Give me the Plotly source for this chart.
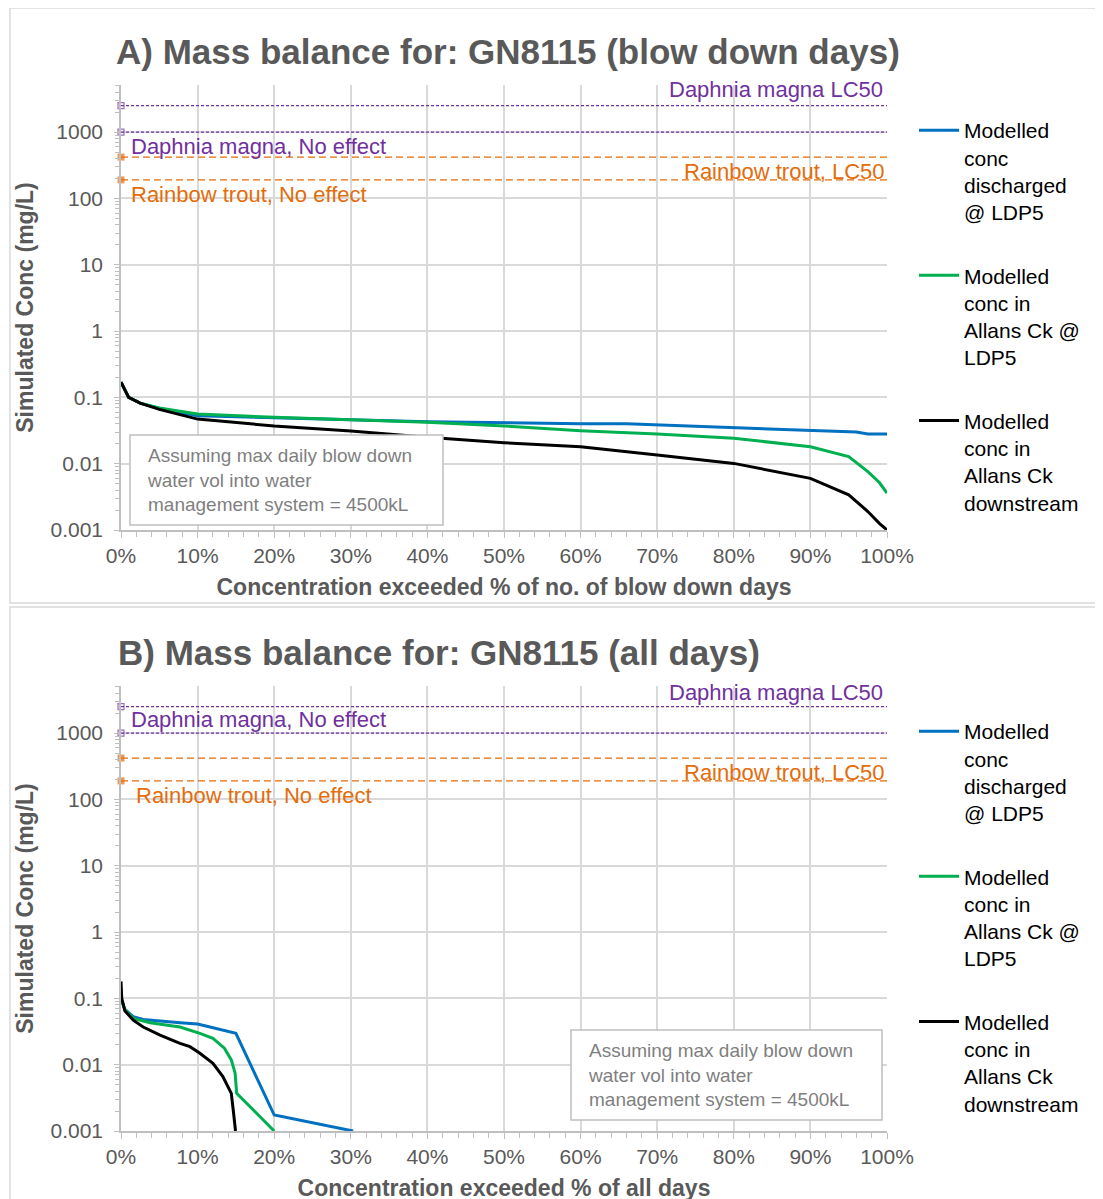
import math
import plotly.graph_objects as go

W, H = 1103, 1199

# ---------------- data ----------------
# Panel A: blow down days (x = % of days exceeded, y = mg/L)
a_blue_x = [0, 1, 2.5, 5, 10, 20, 30, 40, 50, 60, 66, 80, 90, 96, 97.5, 100]
a_blue_y = [0.17, 0.1, 0.082, 0.068, 0.053, 0.049, 0.046, 0.043, 0.041, 0.040, 0.040, 0.035, 0.032, 0.030, 0.028, 0.028]
a_green_x = [0, 1, 2.5, 5, 10, 20, 30, 40, 50, 60, 70, 80, 90, 95, 97.5, 99, 100]
a_green_y = [0.17, 0.1, 0.082, 0.069, 0.056, 0.050, 0.046, 0.042, 0.037, 0.0315, 0.028, 0.0242, 0.018, 0.0128, 0.0076, 0.0052, 0.0036]
a_black_x = [0, 1, 2.5, 5, 10, 20, 30, 40, 50, 60, 70, 80, 90, 95, 97.5, 99, 100]
a_black_y = [0.17, 0.1, 0.082, 0.066, 0.047, 0.037, 0.031, 0.025, 0.0207, 0.018, 0.0135, 0.0101, 0.006, 0.0034, 0.0019, 0.00126, 0.001]

# Panel B: all days
b_blue_x = [0, 0.5, 1.6, 2.9, 7.7, 10, 15, 20, 30.3]
b_blue_y = [0.1, 0.068, 0.053, 0.048, 0.043, 0.041, 0.0297, 0.00174, 0.001]
b_green_x = [0, 0.5, 1.6, 3.8, 7.7, 10.3, 12, 13.5, 14.4, 14.9, 15.1, 20]
b_green_y = [0.1, 0.068, 0.05, 0.043, 0.037, 0.0297, 0.025, 0.0177, 0.0118, 0.0074, 0.0037, 0.001]
b_black_x = [0, 0.1, 0.5, 1.6, 2.9, 5.1, 7.7, 9, 10.3, 12, 13.3, 14.4, 14.7, 14.95]
b_black_y = [0.18, 0.1, 0.065, 0.047, 0.037, 0.028, 0.021, 0.0187, 0.0149, 0.0105, 0.0066, 0.0037, 0.00185, 0.001]

# Toxicity thresholds (mg/L)
thr_names = ["Daphnia magna LC50", "Daphnia magna, No effect", "Rainbow trout, LC50", "Rainbow trout, No effect"]
thr_values = [2500, 1000, 420, 190]
ref_x = [0, 100]

series_names = ["Modelled<br>conc<br>discharged<br>@ LDP5",
                "Modelled<br>conc in<br>Allans Ck @<br>LDP5",
                "Modelled<br>conc in<br>Allans Ck<br>downstream"]
y_ticks = [0.001, 0.01, 0.1, 1, 10, 100, 1000]
y_ticklabels = ["0.001", "0.01", "0.1", "1", "10", "100", "1000"]
x_ticks = [0, 10, 20, 30, 40, 50, 60, 70, 80, 90, 100]
x_ticklabels = ["0%", "10%", "20%", "30%", "40%", "50%", "60%", "70%", "80%", "90%", "100%"]

titles = ["A) Mass balance for: GN8115 (blow down days)", "B) Mass balance for: GN8115 (all days)"]
xtitles = ["Concentration exceeded % of no. of blow down days", "Concentration exceeded % of all days"]
note_text = "Assuming max daily blow down<br>water vol into water<br>management system = 4500kL"

# ---------------- styles ----------------
FONT = "Liberation Sans, Arial, sans-serif"
GREY = "#595959"
C_BLUE, C_GREEN, C_BLACK = "#0070C0", "#00B050", "#000000"
C_PURPLE, C_ORANGE = "#7030A0", "#E46C0A"
thr_colors = [C_PURPLE, C_PURPLE, C_ORANGE, C_ORANGE]
thr_dash = ["3px,2px", "3px,2px", "7px,4px", "7px,4px"]
thr_marker = [dict(symbol="square-open", size=6, color=C_PURPLE, line=dict(width=1.2, color=C_PURPLE)),
              dict(symbol="square-open", size=6, color=C_PURPLE, line=dict(width=1.2, color=C_PURPLE)),
              dict(symbol="square", size=7, color=C_ORANGE, line=dict(width=0)),
              dict(symbol="square", size=7, color=C_ORANGE, line=dict(width=0))]

OFF = 8  # page body margin


def px(x):
    return (x - OFF) / W


def py(y):
    return 1 - (y - OFF) / H


fig = go.Figure()

panels = [
    dict(xa="x", ya="y", leg="legend",
         data=[(a_blue_x, a_blue_y, C_BLUE), (a_green_x, a_green_y, C_GREEN), (a_black_x, a_black_y, C_BLACK)]),
    dict(xa="x2", ya="y2", leg="legend2",
         data=[(b_blue_x, b_blue_y, C_BLUE), (b_green_x, b_green_y, C_GREEN), (b_black_x, b_black_y, C_BLACK)]),
]

for p in panels:
    for name, v, col, dash, mk in zip(thr_names, thr_values, thr_colors, thr_dash, thr_marker):
        m = dict(mk)
        m["size"] = [mk["size"], 0]
        fig.add_trace(go.Scatter(x=ref_x, y=[v, v], mode="lines+markers", name=name,
                                 line=dict(color=col, width=1.3, dash=dash), marker=m, cliponaxis=False,
                                 showlegend=False, xaxis=p["xa"], yaxis=p["ya"], hoverinfo="skip"))
    for i, ((xs, ys, col), nm) in enumerate(zip(p["data"], series_names)):
        fig.add_trace(go.Scatter(x=xs, y=ys, mode="lines", name=nm, line=dict(color=col, width=3),
                                 xaxis=p["xa"], yaxis=p["ya"], legend=p["leg"], legendgroup=f"{p['leg']}{i}"))

# ---------------- axes ----------------
ytop = 3.71
axis_common = dict(showline=True, linecolor="#bfbfbf", linewidth=1.5, gridcolor="#d9d9d9", gridwidth=1.5,
                   tickfont=dict(family=FONT, size=21, color=GREY), zeroline=False, automargin=False)

xdoms = [px(121), px(887)]
ydomA = [py(530), py(85)]
ydomB = [py(1131), py(686)]

for key, ydom, xt, anchor in [("", ydomA, xtitles[0], "y"), ("2", ydomB, xtitles[1], "y2")]:
    fig.layout["xaxis" + key] = dict(axis_common, domain=xdoms, range=[0, 100], tickvals=x_ticks,
                                     ticktext=x_ticklabels,
                                     ticks="outside", ticklen=6, tickcolor="#bfbfbf", anchor=anchor,
                                     minor=dict(dtick=2, ticks="outside", ticklen=5, tickcolor="#bfbfbf", showgrid=False),
                                     title=dict(text="<b>" + xt + "</b>", font=dict(family=FONT, size=23, color=GREY),
                                                standoff=13))
for key, ydom, anchor in [("", ydomA, "x"), ("2", ydomB, "x2")]:
    fig.layout["yaxis" + key] = dict(axis_common, domain=ydom, type="log", range=[-3, ytop], tickvals=y_ticks,
                                     ticktext=y_ticklabels, ticks="outside", ticklen=5, tickcolor="#bfbfbf",
                                     ticklabelstandoff=7, anchor=anchor,
                                     minor=dict(dtick="D1", ticks="outside", ticklen=4, tickcolor="#bfbfbf", showgrid=False),
                                     title=dict(text="<b>Simulated Conc (mg/L)</b>",
                                                font=dict(family=FONT, size=23, color=GREY), standoff=10))

# ---------------- annotations ----------------
ann = []
ann.append(dict(text="<b>" + titles[0] + "</b>", xref="paper", yref="paper", x=px(114), y=py(51),
                xanchor="left", yanchor="middle", showarrow=False, font=dict(family=FONT, size=35, color=GREY)))
ann.append(dict(text="<b>" + titles[1] + "</b>", xref="paper", yref="paper", x=px(116), y=py(652),
                xanchor="left", yanchor="middle", showarrow=False, font=dict(family=FONT, size=35, color=GREY)))

# threshold labels: (index, x, xanchor, yanchor, yshift, xshift) per panel
lab_A = [(0, 100, "right", "bottom", 2, -2), (1, 1.1, "left", "top", 0, 0), (2, 100, "right", "top", 0, 0),
         (3, 1.1, "left", "top", 0, 0)]
lab_B = [(0, 100, "right", "bottom", 0, -2), (1, 1.0, "left", "bottom", -1, 0), (2, 100, "right", "top", 0, 0),
         (3, 1.7, "left", "top", 0, 0)]
for labs, xr, yr in [(lab_A, "x", "y"), (lab_B, "x2", "y2")]:
    for idx, xv, xa, ya, ys, xs in labs:
        ann.append(dict(text=thr_names[idx], xref=xr, yref=yr, x=xv, y=math.log10(thr_values[idx]),
                        xanchor=xa, yanchor=ya, yshift=ys, xshift=xs, showarrow=False,
                        font=dict(family=FONT, size=22, color=thr_colors[idx])))

# notes (text boxes)
shapes = []
for (x0, y0, x1, y1) in [(130, 435, 443, 525), (571, 1030, 882, 1120)]:
    shapes.append(dict(type="rect", xref="paper", yref="paper", x0=px(x0), x1=px(x1), y0=py(y0), y1=py(y1),
                       line=dict(color="#bfbfbf", width=1.5), fillcolor="white", layer="above"))
    ann.append(dict(text=note_text, xref="paper", yref="paper", x=px(x0 + 15), y=py((y0 + y1) / 2),
                    xanchor="left", yanchor="middle", align="left", showarrow=False,
                    font=dict(family=FONT, size=19, color="#7f7f7f")))

# panel borders
for (y0, y1) in [(8, 603), (607, 1215)]:
    shapes.append(dict(type="rect", xref="paper", yref="paper", x0=px(10), x1=px(1115), y0=py(y0), y1=py(y1),
                       line=dict(color="#d9d9d9", width=1.5), fillcolor="rgba(0,0,0,0)", layer="below"))

legend_style = dict(font=dict(family=FONT, size=21, color="#000000"), bgcolor="rgba(0,0,0,0)",
                    xanchor="left", yanchor="top", valign="top", tracegroupgap=33, itemwidth=40,
                    traceorder="grouped")

fig.update_layout(
    width=W, height=H, margin=dict(l=0, r=0, t=0, b=0),
    paper_bgcolor="white", plot_bgcolor="white",
    annotations=ann, shapes=shapes,
    legend=dict(legend_style, x=px(914), y=py(110)),
    legend2=dict(legend_style, x=px(914), y=py(711)),
    showlegend=True,
)

fig.write_html("out.html")
